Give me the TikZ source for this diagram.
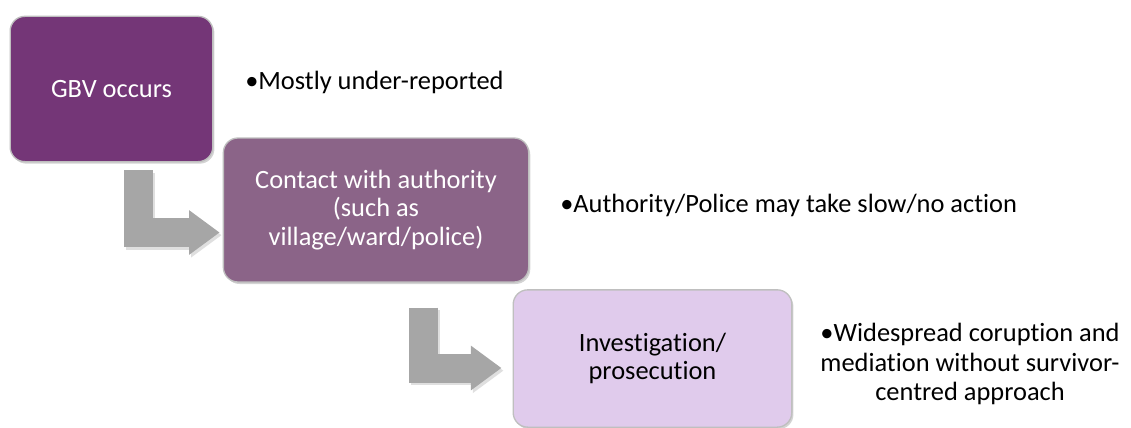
\documentclass[tikz,border=0pt]{standalone}
\usepackage{fontspec}
\setmainfont{Carlito}[Ligatures=NoCommon]
\usepackage{tikz}
\usetikzlibrary{arrows.meta,calc,shadows,positioning}

\definecolor{darkplum}{RGB}{116,54,119}
\definecolor{midplum}{RGB}{139,100,136}
\definecolor{paleplum}{RGB}{224,203,236}
\definecolor{arrowgrey}{RGB}{166,166,166}

\tikzset{
  stagebox/.style={rectangle,rounded corners=11pt,draw=gray!50,line width=1pt,
    align=center,font=\fontsize{19.8}{21.6}\selectfont,
    drop shadow={shadow xshift=1.2pt,shadow yshift=-1.5pt,opacity=.35}},
  notetext/.style={align=center,font=\fontsize{19.8}{21.8}\selectfont,inner sep=0pt},
  bentarrow/.style={draw=arrowgrey,line width=21.75pt,line join=miter,
    -{Triangle[width=32pt,length=23pt]}},
  bentshadow/.style={draw=black!25,opacity=.5,line width=21.75pt,line join=miter,
    -{Triangle[width=32pt,length=23pt]},transform canvas={shift={(1.5pt,-2pt)}}}
}

\begin{document}
\begin{tikzpicture}[x=0.75pt,y=-0.75pt]
\useasboundingbox (0,0) rectangle (1131,428);

\node[stagebox,fill=darkplum,text=white,minimum width=152pt,minimum height=109pt]
    at (111.5,89) (gbv) {GBV occurs};
\node[stagebox,fill=midplum,text=white,minimum width=229pt,minimum height=108pt]
    at (376,210) (contact) {Contact with authority\\(such as\\village/ward/police)};
\node[stagebox,fill=paleplum,text=black,minimum width=209pt,minimum height=103pt]
    at (652.5,358.5) (invest) {Investigation/\\prosecution};

\node[notetext,anchor=west] at (245,82) (note1) {•Mostly under-reported};
\node[notetext,anchor=west] at (560,205) (note2) {•Authority/Police may take slow/no action};
\node[notetext] at (970,364) (note3)
    {•Widespread coruption and\\mediation without survivor-\\centred approach};

\draw[bentshadow] ($(gbv.south)+(26.5,8)$) |- ($(contact.west)+(-3,22.5)$);
\draw[bentarrow] ($(gbv.south)+(26.5,8)$) |- ($(contact.west)+(-3,22.5)$);
\draw[bentshadow] ($(contact.south)+(47,25)$) |- ($(invest.west)+(-11,9.5)$);
\draw[bentarrow] ($(contact.south)+(47,25)$) |- ($(invest.west)+(-11,9.5)$);
\end{tikzpicture}
\end{document}
